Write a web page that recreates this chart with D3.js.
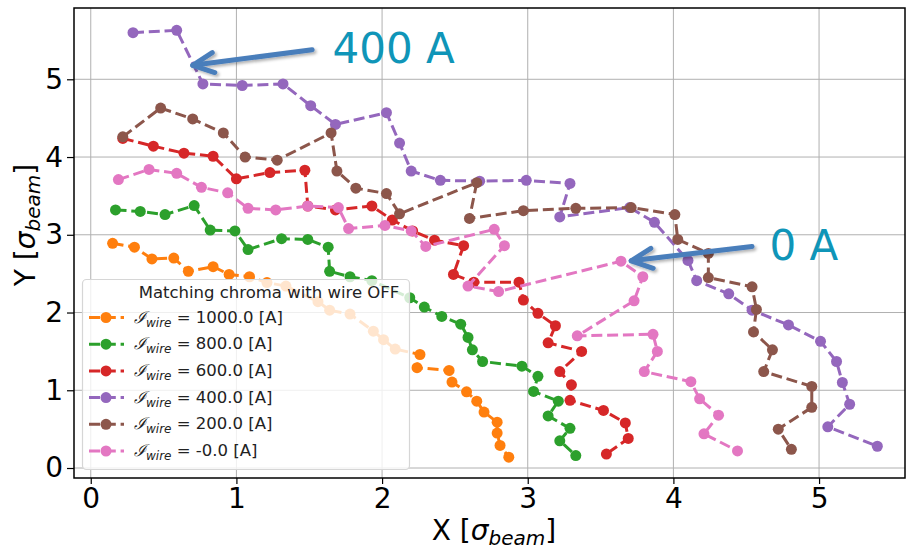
<!DOCTYPE html>
<html>
<head>
<meta charset="utf-8">
<script src="https://cdn.jsdelivr.net/npm/d3@7"></script>
<style>
  body { margin: 0; background: #fff; }
  svg { font-family: "DejaVu Sans", sans-serif; }
</style>
</head>
<body>
<div id="chart"></div>
<script>
// wire currents, one trace per current
var currents = ['1000.0', '800.0', '600.0', '400.0', '200.0', '-0.0'];
var colors = ['#ff7f0e', '#2ca02c', '#d62728', '#9467bd', '#8c564b', '#e377c2'];

var xTicks = [0, 1, 2, 3, 4, 5];
var yTicks = [0, 1, 2, 3, 4, 5];

var orange = [[0.15,2.89],[0.30,2.84],[0.42,2.69],[0.57,2.70],[0.67,2.53],[0.84,2.59],[0.95,2.49],[1.09,2.46],[1.21,2.385],[1.34,2.34],[1.56,2.14],[1.64,2.03],[1.78,1.98],[1.94,1.76],[2.01,1.65],[2.09,1.53],[2.26,1.46],[2.24,1.29],[2.46,1.255],[2.48,1.105],[2.58,0.98],[2.65,0.86],[2.70,0.72],[2.79,0.59],[2.79,0.45],[2.81,0.29],[2.87,0.14]];
var green = [[0.17,3.32],[0.34,3.30],[0.51,3.26],[0.71,3.375],[0.82,3.06],[0.99,3.05],[1.08,2.81],[1.31,2.95],[1.49,2.94],[1.63,2.84],[1.64,2.53],[1.78,2.46],[1.93,2.41],[2.19,2.19],[2.29,2.07],[2.41,1.95],[2.54,1.85],[2.59,1.68],[2.62,1.52],[2.69,1.37],[2.96,1.31],[3.07,1.18],[3.04,0.985],[3.21,0.86],[3.14,0.67],[3.29,0.51],[3.22,0.35],[3.33,0.16]];
var red = [[0.22,4.24],[0.43,4.14],[0.64,4.05],[0.84,4.01],[1.00,3.72],[1.23,3.80],[1.47,3.83],[1.49,3.37],[1.68,3.32],[1.93,3.37],[2.07,3.19],[2.21,3.05],[2.36,2.93],[2.56,2.86],[2.49,2.49],[2.63,2.39],[2.94,2.39],[2.97,2.16],[3.07,1.99],[3.19,1.83],[3.14,1.61],[3.37,1.50],[3.22,1.24],[3.30,1.07],[3.29,0.87],[3.52,0.74],[3.67,0.58],[3.69,0.38],[3.54,0.18]];
var purple = [[0.29,5.60],[0.59,5.63],[0.77,4.94],[1.04,4.92],[1.32,4.94],[1.51,4.66],[1.68,4.42],[2.03,4.57],[2.12,4.18],[2.20,3.82],[2.40,3.70],[2.67,3.69],[2.99,3.70],[3.29,3.66],[3.22,3.23],[3.70,3.35],[3.87,3.16],[4.10,2.67],[4.16,2.41],[4.38,2.24],[4.54,2.03],[4.79,1.84],[5.01,1.63],[5.12,1.37],[5.16,1.10],[5.21,0.82],[5.06,0.53],[5.40,0.28]];
var brown = [[0.22,4.26],[0.48,4.63],[0.70,4.49],[0.91,4.31],[1.06,4.00],[1.28,3.96],[1.65,4.31],[1.69,3.82],[1.82,3.60],[2.03,3.53],[2.12,3.27],[2.65,3.67],[2.60,3.21],[2.97,3.31],[3.33,3.34],[3.71,3.35],[4.01,3.26],[4.03,2.94],[4.24,2.76],[4.24,2.45],[4.54,2.33],[4.57,2.04],[4.55,1.75],[4.68,1.52],[4.62,1.24],[4.95,1.05],[4.95,0.78],[4.72,0.50],[4.81,0.24]];
var pink = [[0.19,3.71],[0.40,3.84],[0.59,3.79],[0.76,3.61],[0.94,3.54],[1.08,3.34],[1.27,3.32],[1.49,3.37],[1.70,3.35],[1.77,3.08],[2.02,3.12],[2.20,3.05],[2.30,2.85],[2.77,3.07],[2.84,2.86],[2.59,2.34],[2.80,2.27],[3.64,2.66],[3.79,2.46],[3.73,2.15],[3.34,1.70],[3.86,1.72],[3.89,1.50],[3.80,1.24],[4.12,1.11],[4.18,0.89],[4.31,0.68],[4.21,0.44],[4.44,0.22]];

var series = [orange, green, red, purple, brown, pink];

// annotations: [label, text pos, arrow tail, arrow tip] in data units
var notes = [
  ['400 A', [1.66, 5.21], [1.52, 5.38], [0.70, 5.18]],
  ['0 A', [4.66, 2.68], [4.54, 2.85], [3.71, 2.665]]
];

(function(){
var W = 908, H = 550;
var mLeft = 74, mRight = 905, mTop = 8, mBottom = 478;

var svg = d3.select('#chart').append('svg').attr('width', W).attr('height', H);

var x = d3.scaleLinear().domain([-0.115, 5.590]).range([mLeft, mRight]);
var y = d3.scaleLinear().domain([-0.1285, 5.917]).range([mBottom, mTop]);

// grid
var grid = svg.append('g');
grid.selectAll('.gx').data(xTicks).enter().append('line')
  .attr('x1', function(d){ return x(d); }).attr('x2', function(d){ return x(d); })
  .attr('y1', mTop).attr('y2', mBottom)
  .attr('stroke', '#b0b0b0').attr('stroke-width', 1);
grid.selectAll('.gy').data(yTicks).enter().append('line')
  .attr('y1', function(d){ return y(d); }).attr('y2', function(d){ return y(d); })
  .attr('x1', mLeft).attr('x2', mRight)
  .attr('stroke', '#b0b0b0').attr('stroke-width', 1);

svg.append('clipPath').attr('id', 'clip').append('rect')
  .attr('x', mLeft).attr('y', mTop).attr('width', mRight - mLeft).attr('height', mBottom - mTop);

var line = d3.line().x(function(d){ return x(d[0]); }).y(function(d){ return y(d[1]); });

var plot = svg.append('g').attr('clip-path', 'url(#clip)');
series.forEach(function(s, i) {
  var g = plot.append('g');
  g.append('path').datum(s).attr('d', line)
    .attr('fill', 'none').attr('stroke', colors[i])
    .attr('stroke-width', 3).attr('stroke-dasharray', '11,4.8');
  g.selectAll('circle').data(s).enter().append('circle')
    .attr('cx', function(d){ return x(d[0]); })
    .attr('cy', function(d){ return y(d[1]); })
    .attr('r', 5.5).attr('fill', colors[i]);
});

// axes
var xAxis = svg.append('g').attr('transform', 'translate(0,' + mBottom + ')')
  .call(d3.axisBottom(x).tickValues(xTicks).tickFormat(d3.format('d')).tickSize(6).tickPadding(4));
var yAxis = svg.append('g').attr('transform', 'translate(' + mLeft + ',0)')
  .call(d3.axisLeft(y).tickValues(yTicks).tickFormat(d3.format('d')).tickSize(7).tickPadding(4));
[xAxis, yAxis].forEach(function(a) {
  a.select('.domain').remove();
  a.selectAll('text').attr('font-size', 28).attr('fill', '#000')
    .attr('font-family', 'DejaVu Sans, sans-serif');
  a.selectAll('line').attr('stroke', '#000').attr('stroke-width', 1.2);
});

svg.append('rect').attr('x', mLeft).attr('y', mTop)
  .attr('width', mRight - mLeft).attr('height', mBottom - mTop)
  .attr('fill', 'none').attr('stroke', '#000').attr('stroke-width', 1.5);

// axis labels
var xl = svg.append('text').attr('x', 494).attr('y', 540)
  .attr('text-anchor', 'middle').attr('font-size', 28);
xl.append('tspan').text('X [');
xl.append('tspan').attr('font-style', 'italic').text('σ');
xl.append('tspan').attr('font-style', 'italic').attr('font-size', 20).attr('dy', 5).text('beam');
xl.append('tspan').attr('dy', -5).text(']');

var yl = svg.append('text').attr('transform', 'translate(35,225) rotate(-90)')
  .attr('text-anchor', 'middle').attr('font-size', 28);
yl.append('tspan').text('Y [');
yl.append('tspan').attr('font-style', 'italic').text('σ');
yl.append('tspan').attr('font-style', 'italic').attr('font-size', 20).attr('dy', 5).text('beam');
yl.append('tspan').attr('dy', -5).text(']');

// legend
var lg = svg.append('g');
lg.append('rect').attr('x', 82.5).attr('y', 279.5).attr('width', 327).attr('height', 190)
  .attr('rx', 4).attr('fill', '#fff').attr('fill-opacity', 0.8)
  .attr('stroke', '#d6d6d6').attr('stroke-width', 1.2);
lg.append('text').attr('x', 269).attr('y', 298).attr('text-anchor', 'middle')
  .attr('font-size', 16.5).attr('fill', '#222').text('Matching chroma with wire OFF');
currents.forEach(function(c, i) {
  var cy = 317.5 + i * 26.7;
  lg.append('line').attr('x1', 89).attr('x2', 124).attr('y1', cy).attr('y2', cy)
    .attr('stroke', colors[i]).attr('stroke-width', 3).attr('stroke-dasharray', '11,4.8');
  lg.append('circle').attr('cx', 106).attr('cy', cy).attr('r', 5.5).attr('fill', colors[i]);
  var t = lg.append('text').attr('x', 134).attr('y', cy + 5).attr('font-size', 16.5).attr('fill', '#222');
  t.append('tspan').attr('font-style', 'italic').attr('font-family', 'DejaVu Serif, serif').text('ℐ');
  t.append('tspan').attr('font-style', 'italic').attr('font-size', 12).attr('dy', 4).text('wire');
  t.append('tspan').attr('dy', -4).text(' = ' + c + ' [A]');
});

// annotations with arrows
var defs = svg.append('defs');
var f = defs.append('filter').attr('id', 'shadow').attr('x', '-20%').attr('y', '-50%')
  .attr('width', '140%').attr('height', '200%');
f.append('feDropShadow').attr('dx', 2).attr('dy', 2).attr('stdDeviation', 1.5)
  .attr('flood-color', '#000').attr('flood-opacity', 0.3);

notes.forEach(function(n) {
  var tx = x(n[2][0]), ty = y(n[2][1]), hx = x(n[3][0]), hy = y(n[3][1]);
  var dx = tx - hx, dy = ty - hy, len = Math.sqrt(dx * dx + dy * dy);
  var ux = dx / len, uy = dy / len, px = -uy, py = ux;
  var w1 = [hx + ux * 21 + px * 10, hy + uy * 21 + py * 10];
  var w2 = [hx + ux * 21 - px * 10, hy + uy * 21 - py * 10];
  var a = svg.append('g').attr('filter', 'url(#shadow)')
    .attr('stroke', '#4a7ebb').attr('stroke-width', 5).attr('fill', 'none')
    .attr('stroke-linecap', 'round').attr('stroke-linejoin', 'round');
  a.append('path').attr('d', 'M' + tx + ',' + ty + 'L' + hx + ',' + hy);
  a.append('path').attr('d', 'M' + w1[0] + ',' + w1[1] + 'L' + hx + ',' + hy + 'L' + w2[0] + ',' + w2[1]);
  svg.append('text').attr('x', x(n[1][0])).attr('y', y(n[1][1]))
    .attr('font-size', 42).attr('fill', '#0f95b8').text(n[0]);
});
})();
</script>
</body>
</html>
